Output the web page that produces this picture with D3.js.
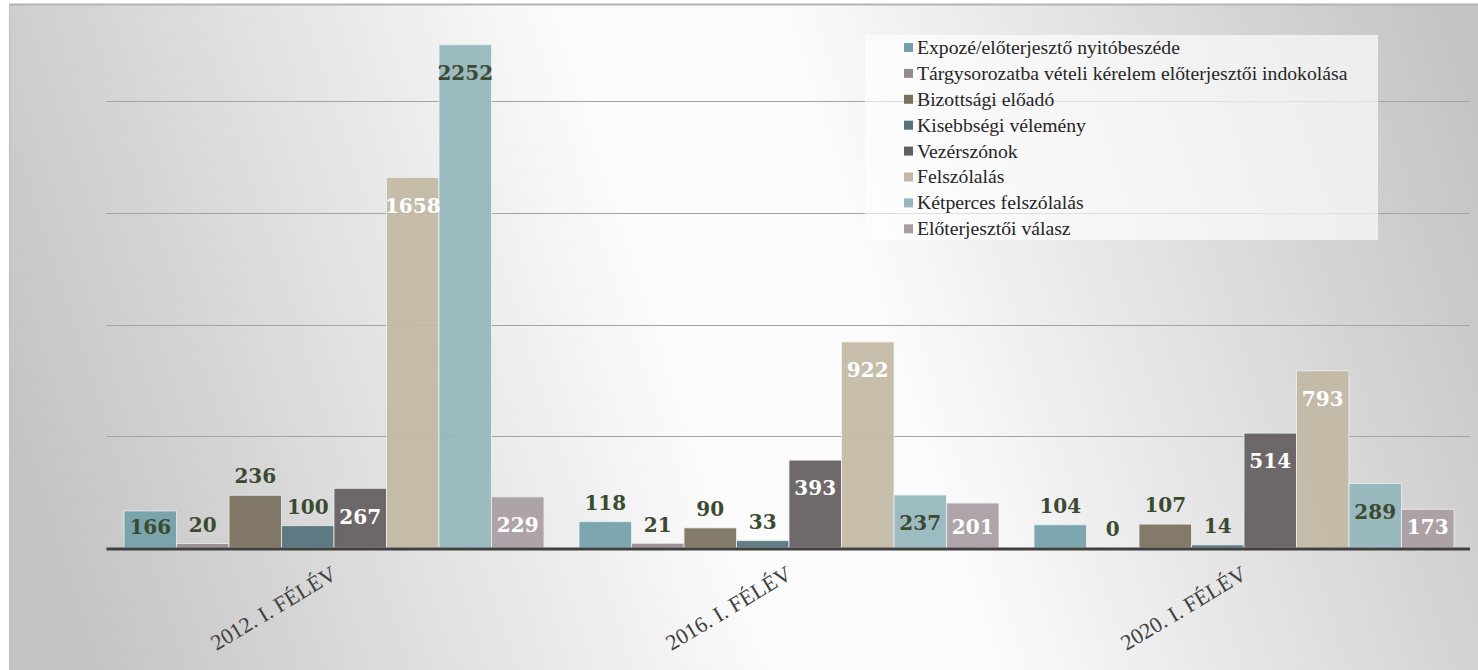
<!DOCTYPE html>
<html>
<head>
<meta charset="utf-8">
<script src="https://cdn.jsdelivr.net/npm/d3@7"></script>
<style>
  html, body { margin: 0; padding: 0; background: #fff; }
  svg { display: block; }
</style>
</head>
<body>
<svg id="chart" width="1478" height="670"></svg>
<script>
// categories and series
var categories = ['2012. I. FÉLÉV', '2016. I. FÉLÉV', '2020. I. FÉLÉV'];
var seriesNames = [
  'Expozé/előterjesztő nyitóbeszéde',
  'Tárgysorozatba vételi kérelem előterjesztői indokolása',
  'Bizottsági előadó',
  'Kisebbségi vélemény',
  'Vezérszónok',
  'Felszólalás',
  'Kétperces felszólalás',
  'Előterjesztői válasz'
];
var seriesValues = [
  [166, 118, 104],
  [20, 21, 0],
  [236, 90, 107],
  [100, 33, 14],
  [267, 393, 514],
  [1658, 922, 793],
  [2252, 237, 289],
  [229, 201, 173]
];
var gridTicks = [500, 1000, 1500, 2000];

// label placement in the original: true = above the bar
var labelsOutside = [
  [false, true, true],
  [true, true, true],
  [true, true, true],
  [true, true, true],
  [false, false, false],
  [false, false, false],
  [false, false, false],
  [false, false, false]
];

var colors = ['#73a1a9', '#958a90', '#7a705d', '#53717a', '#635c60', '#c1b8a3', '#95b6bd', '#a89ca3'];
var green = '#3b4a31';
var insideColors = [green, green, green, green, '#ffffff', '#ffffff', green, '#ffffff'];

var svg = d3.select('#chart');
var defs = svg.append('defs');

var grad = defs.append('linearGradient')
  .attr('id', 'bg')
  .attr('gradientUnits', 'userSpaceOnUse')
  .attr('x1', 50).attr('y1', 565)
  .attr('x2', 1470).attr('y2', 105);
grad.append('stop').attr('offset', 0).attr('stop-color', '#c3c3c3');
grad.append('stop').attr('offset', 0.44).attr('stop-color', '#fbfbfb');
grad.append('stop').attr('offset', 0.58).attr('stop-color', '#fbfbfb');
grad.append('stop').attr('offset', 1).attr('stop-color', '#c4c4c4');

// panel
svg.append('rect')
  .attr('x', 9).attr('y', 4)
  .attr('width', 1469).attr('height', 666)
  .attr('fill', 'url(#bg)');
svg.append('line')
  .attr('x1', 9).attr('x2', 1478).attr('y1', 4.5).attr('y2', 4.5)
  .attr('stroke', '#b4b4b4').attr('stroke-width', 2);
svg.append('line')
  .attr('x1', 9.5).attr('x2', 9.5).attr('y1', 4).attr('y2', 670)
  .attr('stroke', '#bcbcbc').attr('stroke-width', 1);

var x0 = d3.scaleBand()
  .domain(categories)
  .range([106.5, 1471.5])
  .paddingInner(0.077)
  .paddingOuter(0.0385);

var x1 = d3.scaleBand()
  .domain(d3.range(seriesNames.length))
  .range([0, x0.bandwidth()]);

var y = d3.scaleLinear()
  .domain([0, 2000])
  .range([548, 101]);

// gridlines
svg.append('g')
  .selectAll('line')
  .data(gridTicks)
  .join('line')
  .attr('x1', 106.5).attr('x2', 1470)
  .attr('y1', function (d) { return Math.round(y(d)) + 0.5; })
  .attr('y2', function (d) { return Math.round(y(d)) + 0.5; })
  .attr('stroke', '#a4a4a4')
  .attr('stroke-width', 1.2);

// bars
var flat = [];
seriesValues.forEach(function (vals, s) {
  vals.forEach(function (v, c) {
    flat.push({ s: s, c: c, value: v });
  });
});

svg.append('g')
  .selectAll('rect')
  .data(flat)
  .join('rect')
  .attr('x', function (d) { return x0(categories[d.c]) + x1(d.s); })
  .attr('y', function (d) { return y(d.value); })
  .attr('width', x1.bandwidth())
  .attr('height', function (d) { return y(0) - y(d.value); })
  .attr('fill', function (d) { return colors[d.s]; })
  .attr('fill-opacity', 0.92)
  .attr('stroke', 'rgba(240,244,244,0.75)')
  .attr('stroke-width', 1);

// axis line
svg.append('line')
  .attr('x1', 106.5).attr('x2', 1470)
  .attr('y1', 549).attr('y2', 549)
  .attr('stroke', '#404040')
  .attr('stroke-width', 3);

// data labels
svg.append('g')
  .selectAll('text')
  .data(flat)
  .join('text')
  .attr('x', function (d) { return x0(categories[d.c]) + x1(d.s) + x1.bandwidth() / 2; })
  .attr('y', function (d) {
    var top = y(d.value);
    return labelsOutside[d.s][d.c] ? top - 19 : Math.min(top + 28, 527);
  })
  .attr('dy', '0.36em')
  .attr('text-anchor', 'middle')
  .attr('font-family', '"DejaVu Serif", serif')
  .attr('font-weight', 'bold')
  .attr('font-size', 20)
  .attr('fill', function (d) { return labelsOutside[d.s][d.c] ? green : insideColors[d.s]; })
  .text(function (d) { return d.value; });

// category labels
svg.append('g')
  .selectAll('text')
  .data(categories)
  .join('text')
  .attr('transform', function (d) {
    return 'translate(' + (x0(d) + x0.bandwidth() / 2 + 4) + ',578) rotate(-31)';
  })
  .attr('text-anchor', 'end')
  .attr('font-family', '"Liberation Serif", "DejaVu Serif", serif')
  .attr('font-size', 22)
  .attr('fill', '#404040')
  .text(function (d) { return d; });

// legend
var legend = svg.append('g');
legend.append('rect')
  .attr('x', 865).attr('y', 35)
  .attr('width', 513).attr('height', 205)
  .attr('fill', '#ffffff')
  .attr('fill-opacity', 0.65);

var rows = legend.selectAll('g.row')
  .data(seriesNames)
  .join('g')
  .attr('class', 'row')
  .attr('transform', function (d, i) { return 'translate(904,' + (47 + i * 25.9) + ')'; });

rows.append('rect')
  .attr('x', 0).attr('y', -4)
  .attr('width', 9).attr('height', 9)
  .attr('fill', function (d, i) { return colors[i]; });

rows.append('text')
  .attr('x', 13)
  .attr('dy', '0.35em')
  .attr('font-family', '"Liberation Serif", "DejaVu Serif", serif')
  .attr('font-size', 19.7)
  .attr('fill', '#262626')
  .text(function (d) { return d; });
</script>
</body>
</html>
